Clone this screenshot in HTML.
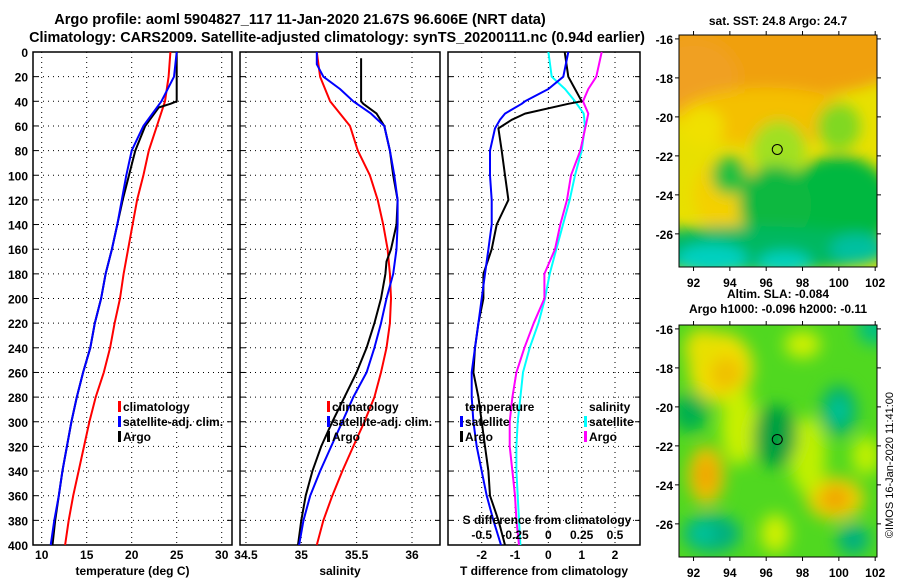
<!DOCTYPE html>
<html><head><meta charset="utf-8"><style>
body{margin:0;background:#fff;}
svg{display:block;font-family:"Liberation Sans",sans-serif;font-weight:bold;}
</style></head><body>
<svg id="s" width="900" height="580" viewBox="0 0 900 580" xmlns="http://www.w3.org/2000/svg">
<defs>
<filter id="bl1" x="-50%" y="-50%" width="200%" height="200%"><feGaussianBlur stdDeviation="7"/></filter>
<filter id="bl2" x="-50%" y="-50%" width="200%" height="200%"><feGaussianBlur stdDeviation="8"/></filter>
<clipPath id="c1"><rect x="679" y="35" width="198" height="232"/></clipPath>
<clipPath id="c2"><rect x="679" y="325" width="198" height="232"/></clipPath>
</defs>
<text x="300" y="24" font-size="14.6" text-anchor="middle">Argo profile: aoml 5904827_117 11-Jan-2020 21.67S 96.606E (NRT data)</text>
<text x="337" y="42" font-size="14.4" text-anchor="middle">Climatology: CARS2009. Satellite-adjusted climatology: synTS_20200111.nc (0.94d earlier)</text>
<g id="g"></g>
</svg>
<script>
// ---- data ----
const depthClimT=[0,20,40,60,80,100,120,140,160,180,200,220,240,260,280,300,320,340,360,380,400];
const tempClim=[24.3,24.1,23.7,22.8,21.9,21.3,20.6,20.1,19.6,19.1,18.7,18.1,17.6,16.9,16.0,15.3,14.7,14.1,13.5,13.0,12.6];
const tempSat=[25.0,24.7,23.3,21.3,20.0,19.4,18.9,18.4,17.8,17.1,16.6,15.9,15.4,14.6,13.9,13.3,12.8,12.3,11.9,11.4,11.0];
const depthArgo=[0,20,40,42,45,60,80,100,120,140,160,180,200,220,240,260,280,300,320,340,360,380,400];
const tempArgo=[25.0,25.0,25.0,24.3,23.0,21.5,20.4,19.7,19.0,18.4,17.8,17.1,16.6,15.9,15.4,14.6,13.9,13.3,12.8,12.3,11.9,11.5,11.2];
const salClim=[35.14,35.17,35.26,35.44,35.51,35.62,35.69,35.74,35.78,35.8,35.81,35.8,35.77,35.72,35.66,35.57,35.47,35.37,35.28,35.2,35.14];
const depthSalSat=[0,10,20,30,40,50,60,80,100,120,140,160,180,200,220,240,260,280,300,320,340,360,380,400];
const salSat=[35.14,35.14,35.2,35.35,35.47,35.63,35.75,35.8,35.84,35.87,35.87,35.86,35.83,35.77,35.72,35.66,35.59,35.47,35.37,35.27,35.17,35.08,35.02,34.98];
const depthSalArgo=[5,40,42,50,60,80,100,120,140,160,170,180,200,220,240,260,280,300,320,340,360,380,400];
const salArgo=[35.54,35.54,35.56,35.68,35.75,35.8,35.83,35.87,35.86,35.81,35.77,35.76,35.72,35.66,35.59,35.5,35.39,35.28,35.18,35.1,35.04,35.0,34.97];
const depthDiff=[0,20,30,40,42,50,55,62,80,100,120,140,160,180,200,220,240,260,280,300,320,340,360,380,400];
const dTArgo=[0.49,0.6,0.8,1.0,0.6,-0.7,-1.1,-1.5,-1.4,-1.3,-1.2,-1.55,-1.7,-1.95,-1.95,-2.1,-2.2,-2.25,-2.1,-2.0,-1.9,-1.8,-1.75,-1.5,-1.3];
const dTSat=[0.6,0.45,0.0,-0.7,-0.8,-1.3,-1.45,-1.6,-1.75,-1.75,-1.7,-1.7,-1.8,-1.9,-2.0,-2.1,-2.2,-2.3,-2.3,-2.25,-2.15,-2.0,-1.85,-1.65,-1.42];
const depthS=[0,20,30,40,50,60,80,100,120,140,160,180,200,220,240,260,280,300,320,340,360,380,400];
const dSSat=[0.0,0.025,0.125,0.2,0.265,0.275,0.25,0.2,0.16,0.11,0.06,0.01,-0.025,-0.075,-0.14,-0.19,-0.21,-0.23,-0.24,-0.24,-0.23,-0.22,-0.21];
const dSArgo=[0.40,0.36,0.3,0.26,0.3,0.28,0.24,0.17,0.14,0.09,0.05,-0.03,-0.03,-0.11,-0.18,-0.24,-0.27,-0.29,-0.29,-0.27,-0.25,-0.24,-0.22];
const depthTicks=[0,20,40,60,80,100,120,140,160,180,200,220,240,260,280,300,320,340,360,380,400];
const tTicks=[10,15,20,25,30];
const sTicks=[34.5,35,35.5,36];
const dTTicks=[-2,-1,0,1,2];
const dSTicks=["-0.5","-0.25","0","0.25","0.5"];
const lonTicks=[92,94,96,98,100,102];
const latTicks=[-16,-18,-20,-22,-24,-26];

const NS="http://www.w3.org/2000/svg";
const G=document.getElementById('g');
function mk(t,a,txt,p){const e=document.createElementNS(NS,t);for(const k in a)e.setAttribute(k,a[k]);if(txt!==undefined)e.textContent=txt;(p||G).appendChild(e);return e;}
const Y0=52,Y1=545;
const yD=d=>Y0+(d/400)*(Y1-Y0);
function lin(d0,d1,r0,r1){return v=>r0+(v-d0)/(d1-d0)*(r1-r0);}
const xT=lin(10,30,41.7,221.7), xS=lin(35,36,301.3,412), xDT=lin(-2,2,481.7,615), xDS=lin(-0.5,0.5,481.7,615);

function panel(name,x0,x1,xt,ticks,xs,title,lblShift){
  const r=mk('rect',{x:x0,y:Y0,width:x1-x0,height:Y1-Y0,fill:'none',stroke:'#000','stroke-width':1.5});
  
  
  depthTicks.forEach(d=>{if(d>0&&d<400){const l=mk('line',{x1:x0,x2:x1,y1:yD(d),y2:yD(d),stroke:'#000','stroke-dasharray':'1 4'});}
    mk('line',{x1:x0,x2:x0+5,y1:yD(d),y2:yD(d),stroke:'#000'});mk('line',{x1:x1-5,x2:x1,y1:yD(d),y2:yD(d),stroke:'#000'});});
  ticks.forEach(t=>{const X=xs(t);if(X>x0+2&&X<x1-2){const l=mk('line',{x1:X,x2:X,y1:Y0,y2:Y1,stroke:'#000','stroke-dasharray':'1 4'});}
    if(xt){const tx=mk('text',{x:X,y:559,'font-size':12,'text-anchor':'middle'},String(t));}});
  const tt=mk('text',{x:(x0+x1)/2,y:575,'font-size':12,'text-anchor':'middle'},title);
  
  
}
function line(name,xs,depths,vals,col,w){
  const pts=vals.map((v,i)=>xs(v).toFixed(1)+','+yD(depths[i]).toFixed(1)).join(' ');
  const p=mk('polyline',{points:pts,fill:'none',stroke:col,'stroke-width':w||2,'stroke-linejoin':'round'});
  
  
}
function leg(name,x,y,col,txt){
  const b=mk('rect',{x:x,y:y-10,width:3,height:11,fill:col});
  
  
  const t=mk('text',{x:x+5,y:y,'font-size':12},txt);
  
  
}
depthTicks.forEach(d=>{const t=mk('text',{x:28,y:yD(d)+5,'font-size':12,'text-anchor':'end'},String(d));});

panel('temperature-panel',33,232,true,tTicks,xT,'temperature (deg C)');
line('temp-climatology-line',xT,depthClimT,tempClim,'#f00');
line('temp-argo-line',xT,depthArgo,tempArgo,'#000');
line('temp-satellite-line',xT,depthClimT,tempSat,'#00f');
leg('legend-climatology',118,411,'#f00','climatology');
leg('legend-satellite-adj',118,426,'#00f','satellite-adj. clim.');
leg('legend-argo',118,441,'#000','Argo');

panel('salinity-panel',240,440,true,sTicks,xS,'salinity');
line('sal-climatology-line',xS,depthClimT,salClim,'#f00');
line('sal-argo-line',xS,depthSalArgo,salArgo,'#000');
line('sal-satellite-line',xS,depthSalSat,salSat,'#00f');
leg('legend2-climatology',327,411,'#f00','climatology');
leg('legend2-satellite-adj',327,426,'#00f','satellite-adj. clim.');
leg('legend2-argo',327,441,'#000','Argo');

panel('difference-panel',448,640,true,dTTicks,xDT,'T difference from climatology');
line('dS-satellite-line',xDS,depthS,dSSat,'#0ff');
line('dS-argo-line',xDS,depthS,dSArgo,'#f0f');
line('dT-argo-line',xDT,depthDiff,dTArgo,'#000');
line('dT-satellite-line',xDT,depthDiff,dTSat,'#00f');
leg('legend3-temperature',460,411,'none','temperature');
leg('legend3-t-satellite',460,426,'#00f','satellite');
leg('legend3-t-argo',460,441,'#000','Argo');
leg('legend3-salinity',584,411,'none','salinity');
leg('legend3-s-satellite',584,426,'#0ff','satellite');
leg('legend3-s-argo',584,441,'#f0f','Argo');
{const t=mk('text',{x:547,y:524,'font-size':12,'text-anchor':'middle'},'S difference from climatology');}
dSTicks.forEach((s,i)=>{const t=mk('text',{x:xDS(parseFloat(s)),y:539,'font-size':12,'text-anchor':'middle'},s);});

// ---- maps ----
const mx=lin(91.2,102.1,679,877);
function map(name,y0,title1,title2,blobs,base,clip,argo){
  const my=lin(-15.8,-27.7,y0,y0+232);
  const g=mk('g',{'clip-path':'url(#'+clip+')'});
  
  
  mk('rect',{x:679,y:y0,width:198,height:232,fill:base},undefined,g);
  const gb=mk('g',{filter:'url(#'+(clip=='c1'?'bl1':'bl2')+')'},undefined,g);
  blobs.forEach(b=>mk('ellipse',{cx:mx(b[0]),cy:my(b[1]),rx:b[2]*18,ry:b[3]*19.5,fill:b[4]},undefined,gb));
  const f=mk('rect',{x:679,y:y0,width:198,height:232,fill:'none',stroke:'#000'});
  
  
  lonTicks.forEach(l=>{mk('line',{x1:mx(l),x2:mx(l),y1:y0-4,y2:y0,stroke:'#000'});mk('line',{x1:mx(l),x2:mx(l),y1:y0+232,y2:y0+236,stroke:'#000'});
    const t=mk('text',{x:mx(l),y:y0+252,'font-size':12,'text-anchor':'middle'},String(l));});
  latTicks.forEach(l=>{mk('line',{x1:675,x2:679,y1:my(l),y2:my(l),stroke:'#000'});mk('line',{x1:877,x2:881,y1:my(l),y2:my(l),stroke:'#000'});
    const t=mk('text',{x:673,y:my(l)+5,'font-size':12,'text-anchor':'end'},String(l));});
  const c=mk('circle',{cx:mx(argo[0]),cy:my(argo[1]),r:5,fill:'none',stroke:'#000'});
  
  
  const t1=mk('text',{x:778,y:title2?y0-27:y0-10,'font-size':12,'text-anchor':'middle'},title1);
  
  
  if(title2){const t2=mk('text',{x:778,y:y0-12,'font-size':12,'text-anchor':'middle'},title2);}
}
map('sst-map',35,'sat. SST: 24.8 Argo: 24.7',null,[
 [96.5,-16.5,8,2.5,'#f0a010'],[92,-18,2.5,2,'#f0a020'],[96,-20,5,1.5,'#f4c000'],
 [92.5,-20.5,1.2,1,'#f0e000'],[94,-24,2,2,'#f4d000'],[96.7,-21.7,1.5,1.5,'#a0e020'],[100,-20.5,1.2,1.2,'#80d820'],
 [100,-24.5,3,2.5,'#00b840'],[96.5,-24.5,2,2,'#10b840'],[94,-23,1,1,'#20c040'],
 [95,-26.8,8,1.2,'#00b860'],[93,-27.3,2,0.8,'#00d0c0'],[97,-27.5,1.5,0.6,'#00d0c0'],[101,-26.8,1.5,0.8,'#00c0a0']
],'#e8e000','c1',[96.61,-21.67]);
map('sla-map',325,'Altim. SLA: -0.084','Argo h1000: -0.096 h2000: -0.11',[
 [93.5,-18,1.8,1.8,'#f0e000'],[93.8,-18.3,0.9,0.9,'#f0c000'],[92.7,-23.5,1,1.5,'#f0c000'],[92.7,-23.5,0.5,0.8,'#f0a000'],
 [99.8,-24.7,1.6,1.1,'#f0d000'],[99.8,-24.7,0.8,0.6,'#f0a000'],[92.5,-17,1,1,'#e8e000'],
 [98,-16.8,1,0.7,'#d0f000'],[98.3,-22.5,1,2,'#c0f000'],[94.5,-21,1,2,'#c8f000'],[101.5,-22.5,0.8,1,'#c0f000'],[96.5,-26.5,0.8,1,'#d0f000'],
 [91.8,-20.3,1,1,'#00b050'],[100,-20.2,1,1.3,'#00b070'],[100,-20.2,0.5,0.6,'#00c8a0'],[93,-26.5,1.6,1,'#00b080'],[92.5,-26.5,0.6,0.5,'#00c8a0'],
 [100.8,-26.8,0.9,0.8,'#00b080'],[96.5,-21.5,1.2,1.6,'#00a040'],[102,-16,1,0.8,'#00c080']
],'#50d820','c2',[96.61,-21.67]);
{const t=mk('text',{x:893,y:465,'font-size':11,'font-weight':'normal','text-anchor':'middle',transform:'rotate(-90 893 465)'},'©IMOS 16-Jan-2020 11:41:00');}
</script>
</body></html>
